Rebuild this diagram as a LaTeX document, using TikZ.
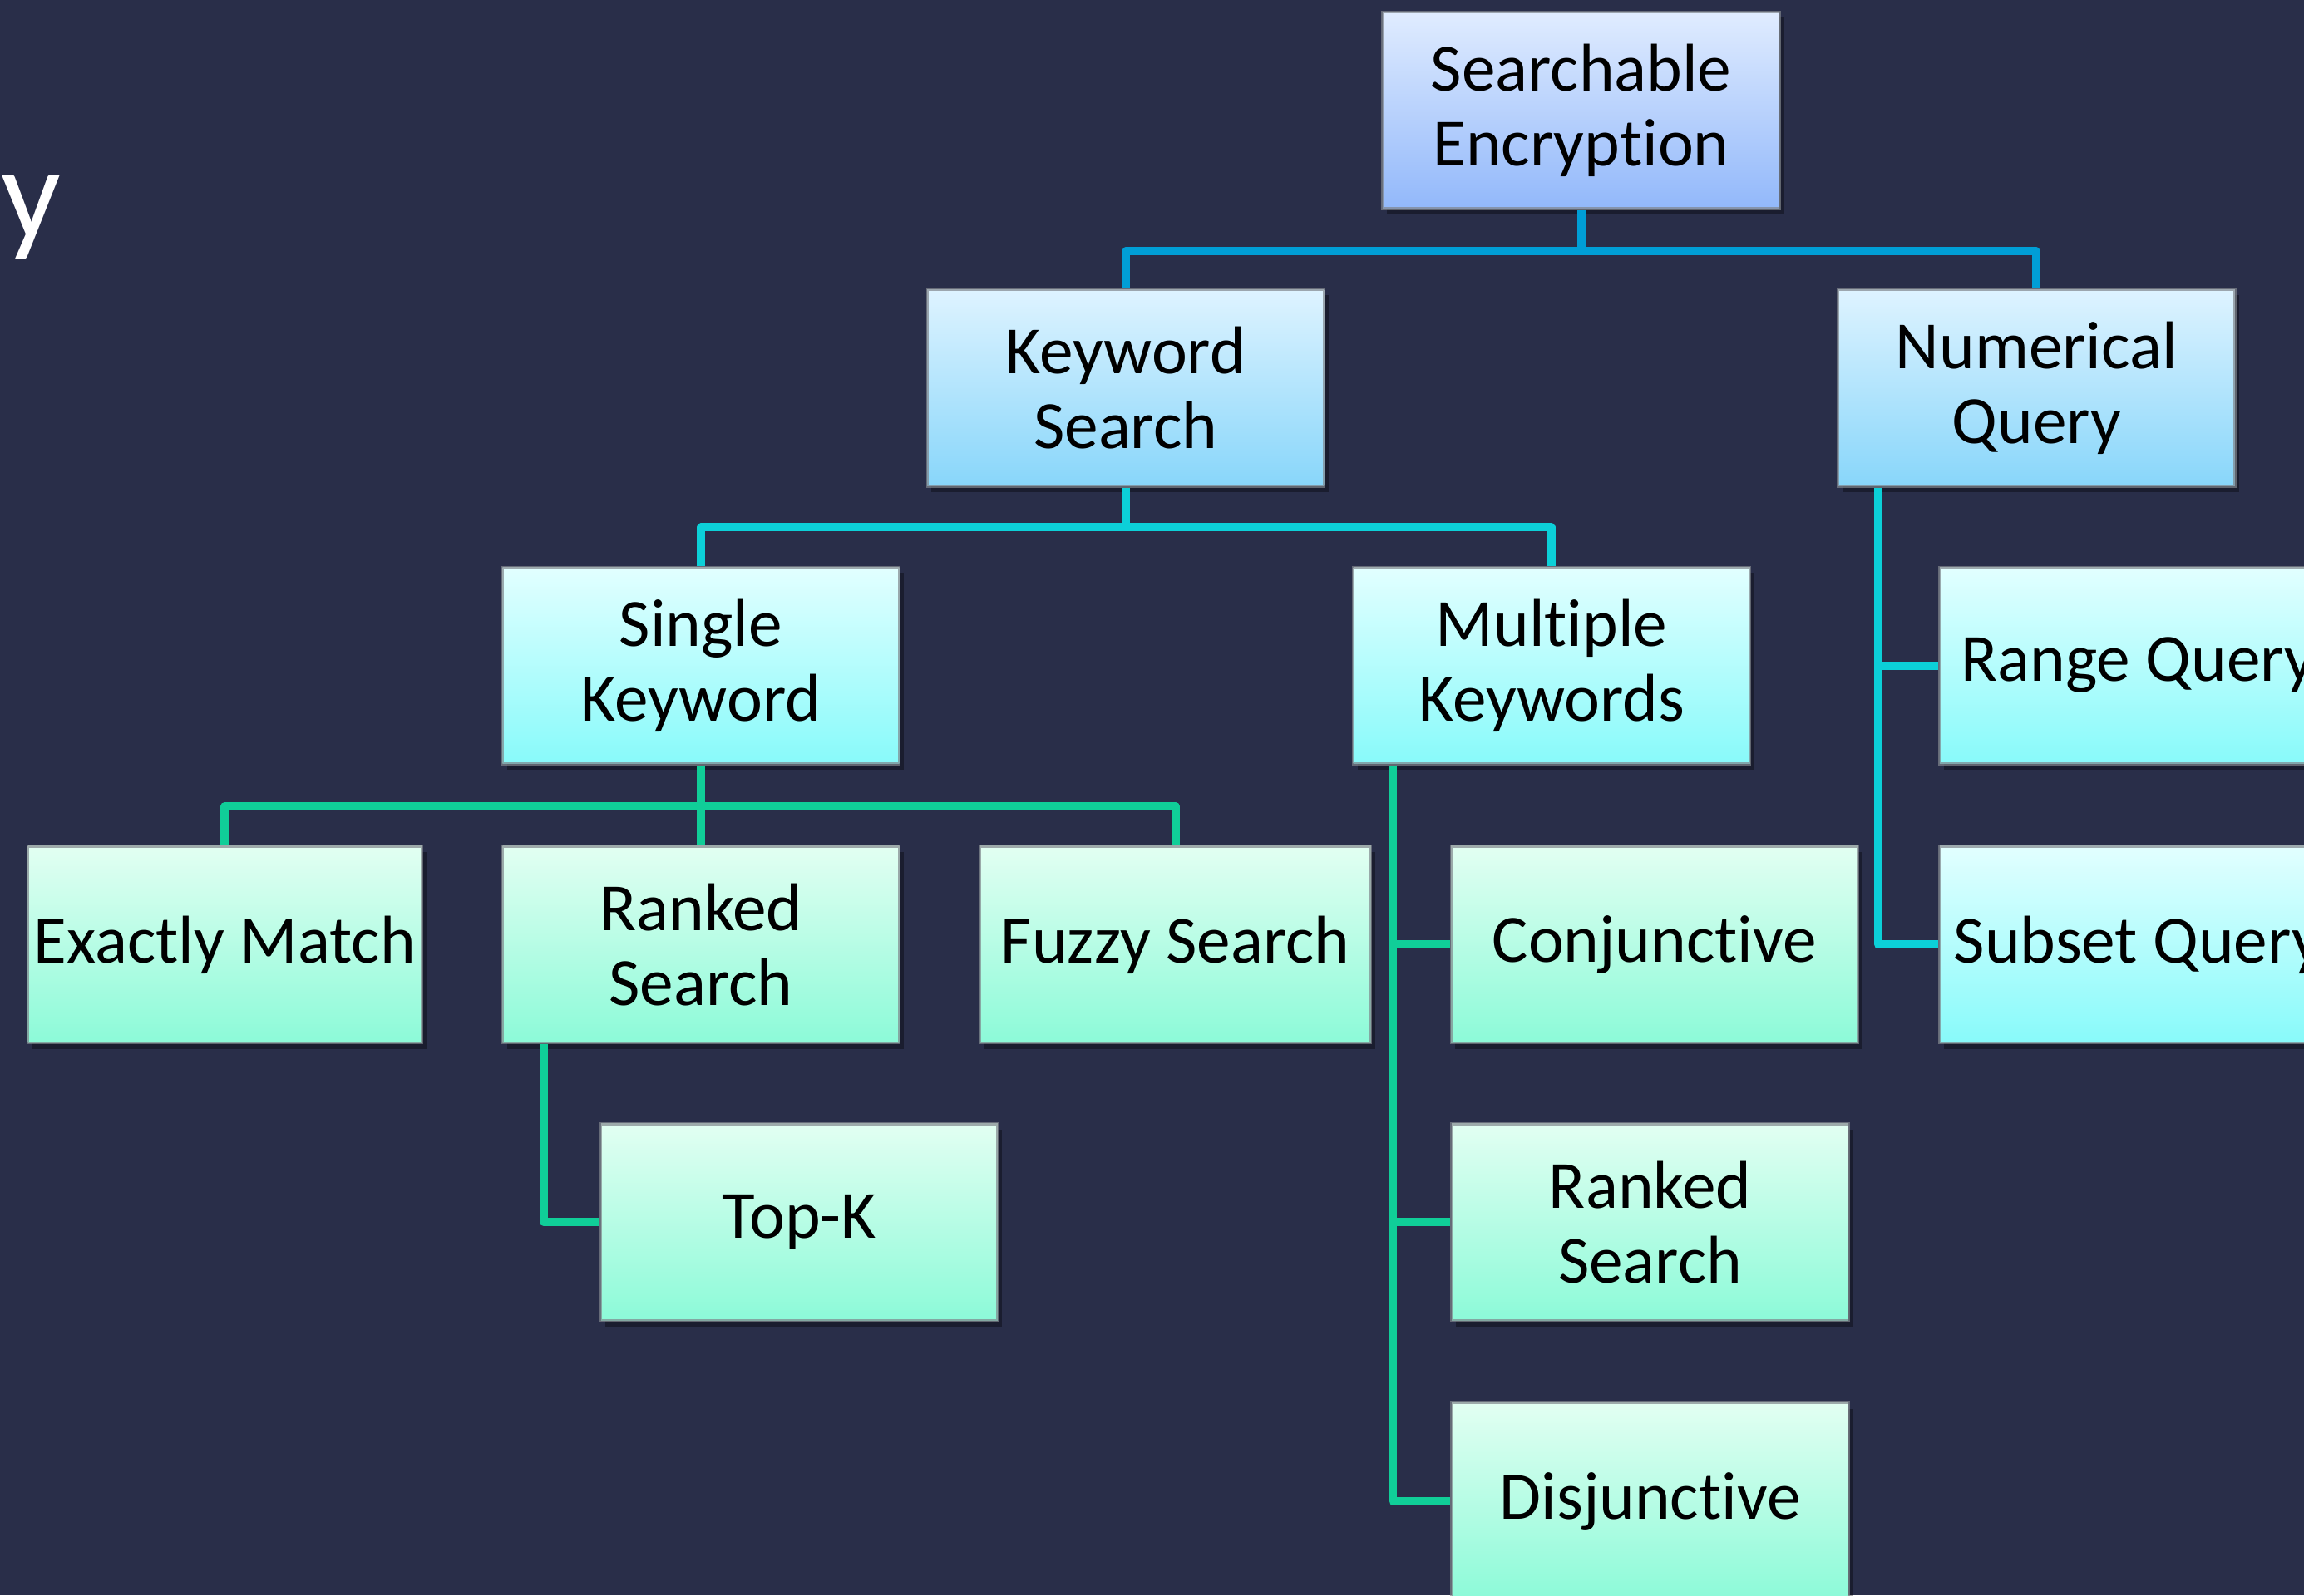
\documentclass[tikz,border=0pt]{standalone}
\usepackage{fontspec}
\setmainfont[Ligatures=NoCommon]{Carlito}
\usetikzlibrary{shadows}

\definecolor{bg}{RGB}{41,46,73}
\definecolor{linkA}{RGB}{0,158,214}
\definecolor{linkB}{RGB}{12,208,216}
\definecolor{linkC}{RGB}{16,206,152}
\definecolor{rimgray}{RGB}{128,134,140}

\tikzset{
  box/.style={
    draw=rimgray, draw opacity=0.7, line width=0.9pt,
    minimum width=135pt, minimum height=67pt, inner sep=0pt,
    align=center, text=black,
    font=\fontsize{23}{25.5}\selectfont,
    drop shadow={shadow xshift=1.5pt, shadow yshift=-2pt, opacity=0.35, fill=black}
  },
  tierA/.style={box, top color={rgb,255:red,224;green,236;blue,255}, bottom color={rgb,255:red,146;green,184;blue,250}},
  tierB/.style={box, top color={rgb,255:red,222;green,243;blue,255}, bottom color={rgb,255:red,136;green,214;blue,250}},
  tierC/.style={box, top color={rgb,255:red,226;green,255;blue,255}, bottom color={rgb,255:red,136;green,250;blue,250}},
  tierD/.style={box, top color={rgb,255:red,226;green,255;blue,242}, bottom color={rgb,255:red,140;green,250;blue,216}},
  wire/.style={line width=2.8pt, line join=round},
  wireA/.style={wire, draw=linkA},
  wireB/.style={wire, draw=linkB},
  wireC/.style={wire, draw=linkC},
  heading/.style={text=white, inner sep=0pt, font=\fontsize{45}{50}\selectfont}
}

\begin{document}
\begin{tikzpicture}[x=0.5pt, y=-0.5pt]
  \useasboundingbox (0,0) rectangle (1568,1086);
  \fill[bg] (0,0) rectangle (1568,1086);
  \clip (0,0) rectangle (1568,1086);

  % heading fragment
  \node[heading, anchor=base east] (ttl) at (42,162) {y};

  % tree nodes
  \node[tierA] (root) at (1076,75)  {Searchable\\Encryption};
  \node[tierB] (kw)   at (766,264)  {Keyword\\Search};
  \node[tierB] (num)  at (1386,264) {Numerical\\Query};
  \node[tierC] (sk)   at (477,453)  {Single\\Keyword};
  \node[tierC] (mk)   at (1056,453) {Multiple\\Keywords};
  \node[tierC] (rq)   at (1455,453) {Range Query};
  \node[tierC] (sq)   at (1455,643) {Subset Query};
  \node[tierD, minimum width=134pt] (em)   at (153,643)  {Exactly Match};
  \node[tierD] (rs1)  at (477,643)  {Ranked\\Search};
  \node[tierD, minimum width=133pt] (fz)   at (800,643)  {Fuzzy Search};
  \node[tierD, minimum width=138.5pt] (conj) at (1126,643) {Conjunctive};
  \node[tierD] (topk) at (544,832)  {Top-K};
  \node[tierD] (rs2)  at (1123,832) {Ranked\\Search};
  \node[tierD] (dj)   at (1123,1022) {Disjunctive};

  % first level
  \draw[wireA] (root.south) -- ++(0,28) -| (kw.north);
  \draw[wireA] (root.south) -- ++(0,28) -| (num.north);

  % keyword search branch
  \draw[wireB] (kw.south) -- ++(0,27) -| (sk.north);
  \draw[wireB] (kw.south) -- ++(0,27) -| (mk.north);

  % numerical query branch
  \draw[wireB] ([xshift=14pt]num.south west) |- (rq.west);
  \draw[wireB] ([xshift=14pt]num.south west) |- (sq.west);

  % single keyword branch
  \draw[wireC] (sk.south) -- ++(0,28) -| (em.north);
  \draw[wireC] (sk.south) -- (rs1.north);
  \draw[wireC] (sk.south) -- ++(0,28) -| (fz.north);
  \draw[wireC] ([xshift=14.5pt]rs1.south west) |- (topk.west);

  % multiple keywords branch
  \draw[wireC] ([xshift=14pt]mk.south west) |- (conj.west);
  \draw[wireC] ([xshift=14pt]mk.south west) |- (rs2.west);
  \draw[wireC] ([xshift=14pt]mk.south west) |- (dj.west);
\end{tikzpicture}
\end{document}
